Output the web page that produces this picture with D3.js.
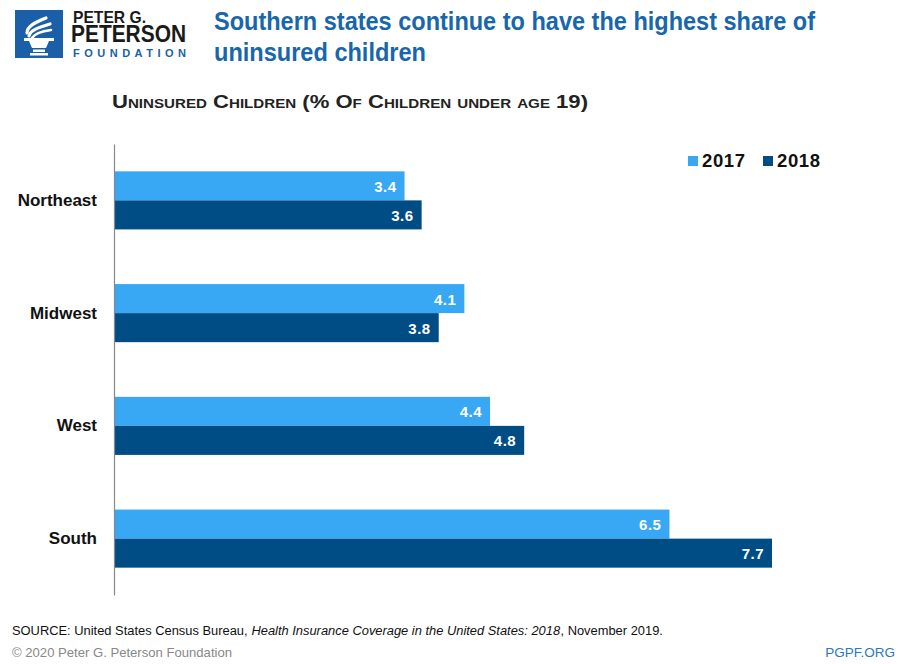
<!DOCTYPE html>
<html><head><meta charset="utf-8">
<script src="https://cdn.jsdelivr.net/npm/d3@7"></script>
<style>
html,body{margin:0;padding:0;background:#fff;}
svg{display:block;}
text{font-family:"Liberation Sans",Arial,sans-serif;}
</style></head>
<body>
<svg id="chart" width="900" height="664"></svg>
<script>
const regions = ["Northeast","Midwest","West","South"];
const years = ["2017","2018"];
const values2017 = [3.4,4.1,4.4,6.5];
const values2018 = [3.6,3.8,4.8,7.7];
const colors = ["#38a7f4","#004d86"];
const titleLines = ["Southern states continue to have the highest share of","uninsured children"];
const subtitle = "Uninsured Children (% Of Children under age 19)";
const sourceParts = [
  {text:"SOURCE: United States Census Bureau,\u00a0", italic:false},
  {text:"Health Insurance Coverage in the United States: 2018", italic:true},
  {text:", November 2019.", italic:false}
];
const copyright = "\u00a9 2020 Peter G. Peterson Foundation";
const siteLabel = "PGPF.ORG";

const svg = d3.select("#chart");
const series = [values2017, values2018];
const data = regions.map((r,i)=>({region:r, vals: years.map((y,j)=>({year:y, idx:j, value:series[j][i]}))}));

// Logo
const logo = svg.append("g");
logo.append("rect").attr("x",15).attr("y",10).attr("width",48).attr("height",48).attr("fill","#1b5fa8");
const fl = logo.append("g").attr("fill","none").attr("stroke","#fff").attr("stroke-linecap","round");
fl.append("path").attr("d","M27 33 C27 26 36 22 46 18").attr("stroke-width",3.2);
fl.append("path").attr("d","M29 36 C30 30 40 27 50 24").attr("stroke-width",3.2);
fl.append("path").attr("d","M32 38 C35 33 43 31 51 30").attr("stroke-width",2.6);
logo.append("path").attr("d","M24 38 L54 38 L54 41 L49 41 L46 48 L32 48 L29 41 L24 41 Z").attr("fill","#fff");
logo.append("rect").attr("x",33).attr("y",49.5).attr("width",12).attr("height",2.5).attr("fill","#fff");
logo.append("rect").attr("x",30).attr("y",53).attr("width",18).attr("height",2.5).attr("fill","#fff");
logo.append("text").attr("x",73).attr("y",22.5).attr("font-size",16.5).attr("font-weight","bold").attr("fill","#1a1a1a")
  .attr("font-family","Roboto, Arial").attr("textLength",73).attr("lengthAdjust","spacingAndGlyphs").text("PETER G.");
logo.append("text").attr("x",71).attr("y",41.5).attr("font-size",23).attr("font-weight","bold").attr("fill","#1a1a1a")
  .attr("font-family","Roboto, Arial").attr("textLength",115).attr("lengthAdjust","spacingAndGlyphs").text("PETERSON");
logo.append("text").attr("x",73).attr("y",57).attr("font-size",11).attr("font-weight","bold").attr("fill","#1b5fa8")
  .attr("font-family","Roboto, Arial").attr("textLength",113).text("FOUNDATION");

// Title
const title = svg.append("text").attr("fill","#1866ab").attr("font-size",25).attr("font-weight","bold")
  .attr("font-family","Roboto, Arial");
const titleWidths = [601, 212];
titleLines.forEach((t,i)=>{
  title.append("tspan").attr("x",214).attr("y",30+i*31).attr("textLength",titleWidths[i])
    .attr("lengthAdjust","spacingAndGlyphs").text(t);
});

// Subtitle
svg.append("text").attr("x",112).attr("y",107.5).attr("font-size",17.5).attr("font-weight","bold")
  .attr("fill","#222").style("font-variant","small-caps").attr("textLength",476)
  .attr("lengthAdjust","spacingAndGlyphs").text(subtitle);

// Scales
const x = d3.scaleLinear().domain([0,7.7]).range([114,772]);
const y0 = d3.scaleBand().domain(regions).range([144,595]).paddingInner(0.485).paddingOuter(0.2425);
const y1 = d3.scaleBand().domain(years).range([0,y0.bandwidth()]);

const groups = svg.append("g").selectAll("g").data(data).join("g")
  .attr("transform",d=>`translate(0,${y0(d.region)})`);
groups.selectAll("rect").data(d=>d.vals).join("rect")
  .attr("x",x(0)).attr("y",d=>y1(d.year)).attr("width",d=>x(d.value)-x(0)).attr("height",y1.bandwidth())
  .attr("fill",d=>colors[d.idx]);
groups.selectAll("text.val").data(d=>d.vals).join("text").attr("class","val")
  .attr("x",d=>x(d.value)-8).attr("y",d=>y1(d.year)+y1.bandwidth()/2+6)
  .attr("text-anchor","end").attr("font-size",15).attr("font-weight","bold").attr("fill","#fff")
  .attr("letter-spacing",0.5)
  .text(d=>d.value.toFixed(1));

// Axis
const yAxis = d3.axisLeft(y0).tickSize(0).tickPadding(17);
const ag = svg.append("g").attr("transform",`translate(${x(0)},0)`).call(yAxis);
ag.select(".domain").attr("stroke","#888").attr("stroke-width",1.2);
ag.selectAll("text").attr("font-size",17).attr("font-weight","bold").attr("fill","#111")
  .attr("font-family","Roboto, Arial");

// Legend
const leg = svg.append("g").selectAll("g").data(years).join("g")
  .attr("transform",(d,i)=>`translate(${688+i*75},156)`);
leg.append("rect").attr("width",10).attr("height",10).attr("fill",(d,i)=>colors[i]);
leg.append("text").attr("x",14).attr("y",11).attr("font-size",18.5).attr("font-weight","bold").attr("fill","#111")
  .attr("font-family","Roboto, Arial").attr("letter-spacing",0.6).text(d=>d);

// Footer: source parts placed sequentially, then scaled to the reference width
const srcG = svg.append("g");
let cx = 0;
sourceParts.forEach(p=>{
  const t = srcG.append("text").attr("x",cx).attr("y",0).attr("font-size",13.5).attr("fill","#111")
    .attr("font-family","Roboto, Arial").attr("font-style",p.italic?"italic":"normal")
    .style("white-space","pre").text(p.text);
  cx += t.node().getComputedTextLength();
});
const sScale = 651/cx;
srcG.attr("transform",`translate(12,634.5) scale(${sScale},1)`);
svg.append("text").attr("x",12).attr("y",657).attr("font-size",13.5).attr("fill","#888")
  .attr("font-family","Roboto, Arial").attr("textLength",220).attr("lengthAdjust","spacingAndGlyphs").text(copyright);
svg.append("text").attr("x",895).attr("y",657).attr("text-anchor","end").attr("font-size",13.5).attr("fill","#2a78bd")
  .attr("font-family","Roboto, Arial").text(siteLabel);
</script>
</body></html>
